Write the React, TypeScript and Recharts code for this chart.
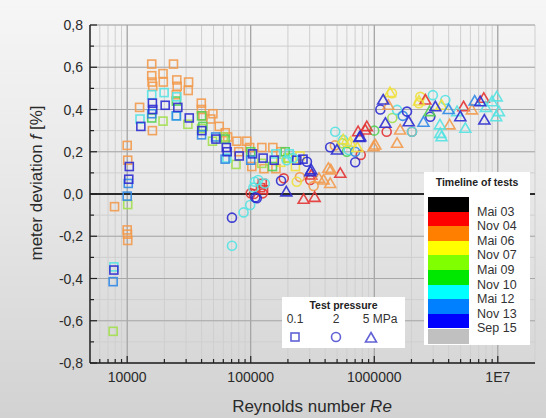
import React from "react";
import {
  ScatterChart,
  Scatter,
  XAxis,
  YAxis,
  CartesianGrid,
  ReferenceLine,
} from "recharts";

// [Reynolds number, meter deviation %]
const redSquares = [[120000, 0.03], [127000, 0.02], [124000, 0.05]];
const orangeSquares = [
  [7900, -0.06], [10000, 0.23], [10100, 0.16], [10000, -0.17], [10050, -0.19], [10100, -0.22],
  [12600, 0.41], [15800, 0.615], [15800, 0.56], [15900, 0.53], [16100, 0.51], [16000, 0.3],
  [19500, 0.57], [19600, 0.53], [23700, 0.615], [25200, 0.54], [25400, 0.51], [25000, 0.47],
  [31400, 0.53], [31200, 0.49], [39800, 0.43], [39900, 0.4], [41000, 0.37], [49400, 0.38],
  [47500, 0.355], [55600, 0.32], [62200, 0.29], [77300, 0.25], [93000, 0.25], [102000, 0.13],
  [123000, 0.22], [151000, 0.22], [98000, 0.22], [80000, 0.2], [128000, 0.12], [160000, 0.12],
  [65000, 0.27], [175000, 0.2],
];
const yellowSquares = [[200000, 0.17], [230000, 0.13], [175000, 0.15], [250000, 0.18]];
const ygreenSquares = [
  [7700, -0.65], [10100, -0.05], [19500, 0.345], [31000, 0.33], [49000, 0.25], [76000, 0.14],
  [123000, 0.145], [60000, 0.27], [200000, 0.17], [40000, 0.31],
];
const greenSquares = [
  [15800, 0.36], [40000, 0.37], [41000, 0.32], [62000, 0.26], [150000, 0.13], [25000, 0.44],
  [100000, 0.2], [190000, 0.2],
];
const cyanSquares = [
  [7800, -0.345], [12700, 0.355], [15800, 0.47], [19900, 0.48], [25200, 0.46], [25000, 0.37],
  [64000, 0.17], [160000, 0.19], [205000, 0.19],
];
const dodgerSquares = [
  [7700, -0.415], [10000, -0.01], [10200, 0.05], [15800, 0.38], [25000, 0.37], [40000, 0.28],
  [62000, 0.165], [100000, 0.16], [52000, 0.27],
];
const blueSquares = [
  [7800, -0.36], [10400, 0.13], [10300, 0.07], [12900, 0.32], [16000, 0.43], [16100, 0.4],
  [20300, 0.42], [25700, 0.41], [31800, 0.36], [40200, 0.3], [52300, 0.26], [63400, 0.22],
  [64500, 0.2], [80700, 0.18], [103500, 0.19], [126000, 0.17], [155000, 0.16], [236000, 0.16],
  [265000, 0.165],
];

const redCircles = [
  [100000, 0.003], [125000, 0.003], [106000, 0.0], [185000, 0.074], [303000, 0.066],
  [777000, 0.185], [1260000, 0.295], [2020000, 0.295],
];
const orangeCircles = [[323000, 0.038], [250000, 0.08], [480000, 0.23]];
const yellowCircles = [[1390000, 0.477], [2360000, 0.46], [2300000, 0.43], [236000, 0.058], [600000, 0.24]];
const ygreenCircles = [[550000, 0.24], [1400000, 0.36]];
const greenCircles = [[600000, 0.2], [1000000, 0.3]];
const cyanCircles = [
  [70500, -0.245], [87500, -0.087], [99000, -0.052], [105000, 0.03], [108000, 0.058],
  [115000, 0.066], [130000, 0.05], [195000, 0.16], [220000, 0.17], [483000, 0.295],
  [560000, 0.256], [620000, 0.208], [1530000, 0.398], [2020000, 0.295], [2980000, 0.468],
  [3760000, 0.445],
];
const dodgerCircles = [[700000, 0.2], [1700000, 0.37]];
const blueCircles = [
  [70500, -0.112], [109000, -0.016], [112000, -0.02], [176000, 0.063], [285000, 0.153],
  [440000, 0.221], [701000, 0.15], [1120000, 0.4], [1840000, 0.39], [2840000, 0.366],
];

const redTriangles = [
  [268000, -0.025], [329000, -0.016], [309000, 0.09], [531000, 0.098], [740000, 0.295],
  [870000, 0.319], [845000, 0.303], [2590000, 0.445], [5280000, 0.413], [7700000, 0.453],
];
const orangeTriangles = [
  [357000, 0.074], [389000, 0.066], [440000, 0.05], [425000, 0.122], [445000, 0.114],
  [1020000, 0.232], [986000, 0.224], [1530000, 0.24], [1620000, 0.303], [1300000, 0.42],
  [4070000, 0.327], [6170000, 0.398],
];
const yellowTriangles = [
  [560000, 0.256], [640000, 0.245], [1340000, 0.48], [2300000, 0.44], [3500000, 0.42], [730000, 0.22],
];
const greenTriangles = [[2800000, 0.39]];
const cyanTriangles = [
  [3420000, 0.287], [3400000, 0.327], [3500000, 0.271], [4680000, 0.39], [5460000, 0.311],
  [8970000, 0.437], [9800000, 0.46], [9700000, 0.366], [10200000, 0.39], [8000000, 0.41],
];
const dodgerTriangles = [[2500000, 0.34], [4000000, 0.4], [6500000, 0.44]];
const blueTriangles = [
  [194000, 0.01], [304000, 0.106], [309000, 0.114], [499000, 0.208], [758000, 0.268],
  [771000, 0.271], [1180000, 0.445], [1230000, 0.335], [1900000, 0.342], [3120000, 0.413],
  [4970000, 0.366], [7200000, 0.437], [7780000, 0.35],
];

const timelineColors = ["#000000", "#ff0000", "#ff8000", "#ffff00", "#80ff00", "#00e800", "#00ffff", "#0080ff", "#0000ff", "#c0c0c0"];
const timelineLabels = ["Mai 03", "Nov 04", "Mai 06", "Nov 07", "Mai 09", "Nov 10", "Mai 12", "Nov 13", "Sep 15"];
const pressureLabels = ["0.1", "2", "5 MPa"];

const xMajor = [10000, 100000, 1000000, 10000000];
const xMinor = [
  6000, 7000, 8000, 9000, 20000, 30000, 40000, 50000, 60000, 70000, 80000, 90000,
  200000, 300000, 400000, 500000, 600000, 700000, 800000, 900000,
  2000000, 3000000, 4000000, 5000000, 6000000, 7000000, 8000000, 9000000,
];
const yMajor = [-0.8, -0.6, -0.4, -0.2, 0, 0.2, 0.4, 0.6, 0.8];
const yMinor = [-0.7, -0.5, -0.3, -0.1, 0.1, 0.3, 0.5, 0.7];

const RED = "#e33434";
const ORANGE = "#f29a4c";
const YELLOW = "#eee03c";
const YGREEN = "#a2df4e";
const GREEN = "#52d052";
const CYAN = "#55e2e2";
const DODGER = "#3088e6";
const BLUE = "#2c2cd0";

const FONT = "'Liberation Sans', Arial, sans-serif";

const toPts = (arr: number[][]) => arr.map(([re, f]) => ({ re, f }));

type Kind = "square" | "circle" | "triangle";

const series: { key: string; color: string; kind: Kind; data: number[][] }[] = [
  { key: "rs", color: RED, kind: "square", data: redSquares },
  { key: "os", color: ORANGE, kind: "square", data: orangeSquares },
  { key: "ys", color: YELLOW, kind: "square", data: yellowSquares },
  { key: "gs1", color: YGREEN, kind: "square", data: ygreenSquares },
  { key: "gs2", color: GREEN, kind: "square", data: greenSquares },
  { key: "cs", color: CYAN, kind: "square", data: cyanSquares },
  { key: "ds", color: DODGER, kind: "square", data: dodgerSquares },
  { key: "bs", color: BLUE, kind: "square", data: blueSquares },
  { key: "rc", color: RED, kind: "circle", data: redCircles },
  { key: "oc", color: ORANGE, kind: "circle", data: orangeCircles },
  { key: "yc", color: YELLOW, kind: "circle", data: yellowCircles },
  { key: "gc1", color: YGREEN, kind: "circle", data: ygreenCircles },
  { key: "gc2", color: GREEN, kind: "circle", data: greenCircles },
  { key: "cc", color: CYAN, kind: "circle", data: cyanCircles },
  { key: "dc", color: DODGER, kind: "circle", data: dodgerCircles },
  { key: "bc", color: BLUE, kind: "circle", data: blueCircles },
  { key: "rt", color: RED, kind: "triangle", data: redTriangles },
  { key: "ot", color: ORANGE, kind: "triangle", data: orangeTriangles },
  { key: "yt", color: YELLOW, kind: "triangle", data: yellowTriangles },
  { key: "gt", color: GREEN, kind: "triangle", data: greenTriangles },
  { key: "ct", color: CYAN, kind: "triangle", data: cyanTriangles },
  { key: "dt", color: DODGER, kind: "triangle", data: dodgerTriangles },
  { key: "bt", color: BLUE, kind: "triangle", data: blueTriangles },
];

function Marker({ cx, cy, color, kind }: { cx: number; cy: number; color: string; kind: Kind }) {
  if (cx == null || cy == null) return null;
  const common = { fill: "none", stroke: color, strokeWidth: 1.6, strokeOpacity: 0.9 };
  if (kind === "square") return <rect x={cx - 4} y={cy - 4} width={8} height={8} {...common} />;
  if (kind === "circle") return <circle cx={cx} cy={cy} r={4.5} {...common} />;
  return <polygon points={`${cx},${cy - 5.5} ${cx + 5.5},${cy + 4} ${cx - 5.5},${cy + 4}`} {...common} />;
}

const fmtX = (v: number) => (v === 10000000 ? "1E7" : String(v));

function XTick(props: any) {
  const { x, y, payload } = props;
  const major = xMajor.includes(payload.value);
  return (
    <g>
      <line x1={x} x2={x} y1={y} y2={y - (major ? 7 : 4)} stroke="#222" strokeWidth={1.2} />
      {major && (
        <text x={x} y={y + 19} textAnchor="middle" fontSize={14} fill="#2a2a2a" fontFamily={FONT}>
          {fmtX(payload.value)}
        </text>
      )}
    </g>
  );
}

function YTick(props: any) {
  const { x, y, payload } = props;
  const v = payload.value;
  const major = yMajor.some((m) => Math.abs(m - v) < 1e-9);
  return (
    <g>
      <line x1={x} x2={x + (major ? 7 : 4)} y1={y} y2={y} stroke="#222" strokeWidth={1.2} />
      {major && (
        <text x={x - 7} y={y + 5} textAnchor="end" fontSize={14} fill="#2a2a2a" fontFamily={FONT}>
          {v.toFixed(1).replace(".", ",")}
        </text>
      )}
    </g>
  );
}

export default function App() {
  return (
    <div
      style={{
        position: "absolute",
        left: 0,
        top: 0,
        width: 546,
        height: 418,
        background: "linear-gradient(to bottom, #f6f6f6 0%, #e6e6e6 50%, #d2d2d2 100%)",
        fontFamily: FONT,
        overflow: "hidden",
      }}
    >
      <ScatterChart width={546} height={418} margin={{ top: 25, right: 11, bottom: 0, left: 0 }}>
        <CartesianGrid stroke="#cfcfcf" strokeWidth={1} />
        <XAxis
          type="number"
          dataKey="re"
          scale="log"
          domain={[5000, 20000000]}
          allowDataOverflow
          ticks={[...xMinor, ...xMajor].sort((a, b) => a - b)}
          tick={<XTick />}
          tickSize={0}
          tickMargin={0}
          tickLine={false}
          interval={0}
          height={55}
          axisLine={{ stroke: "#222", strokeWidth: 1.5 }}
        />
        <YAxis
          type="number"
          dataKey="f"
          domain={[-0.8, 0.8]}
          allowDataOverflow
          ticks={[...yMinor, ...yMajor].sort((a, b) => a - b)}
          tick={<YTick />}
          tickSize={0}
          tickMargin={0}
          tickLine={false}
          interval={0}
          width={90}
          axisLine={{ stroke: "#222", strokeWidth: 1.5 }}
        />
        {xMajor.map((v) => (
          <ReferenceLine key={"vx" + v} x={v} stroke="#9a9a9a" strokeWidth={1} />
        ))}
        {yMajor.filter((v) => v !== 0).map((v) => (
          <ReferenceLine key={"hy" + v} y={v} stroke="#a8a8a8" strokeWidth={1} />
        ))}
        <ReferenceLine y={0} stroke="#2b2b2b" strokeWidth={2} />
        {series.map((s) => (
          <Scatter
            key={s.key}
            data={toPts(s.data)}
            isAnimationActive={false}
            shape={(p: any) => <Marker cx={p.cx} cy={p.cy} color={s.color} kind={s.kind} />}
          />
        ))}
      </ScatterChart>

      {/* axis titles */}
      <div
        style={{
          position: "absolute",
          left: 37 - 110,
          top: 183 - 11,
          width: 220,
          height: 22,
          lineHeight: "22px",
          textAlign: "center",
          fontSize: 17,
          color: "#2a2a2a",
          transform: "rotate(-90deg)",
          whiteSpace: "nowrap",
        }}
      >
        meter deviation <i>f</i> [%]
      </div>
      <div
        style={{
          position: "absolute",
          left: 312 - 150,
          top: 396,
          width: 300,
          lineHeight: "22px",
          textAlign: "center",
          fontSize: 17,
          color: "#2a2a2a",
          whiteSpace: "nowrap",
        }}
      >
        Reynolds number <i>Re</i>
      </div>

      {/* pressure legend */}
      <div
        style={{
          position: "absolute",
          left: 282,
          top: 297,
          width: 123,
          height: 51,
          background: "#ffffff",
        }}
      >
        <div style={{ position: "absolute", left: 0, top: 2, width: 123, textAlign: "center", fontSize: 10.5, fontWeight: "bold", color: "#222" }}>
          Test pressure
        </div>
        {pressureLabels.map((t, i) => {
          const cx = [13, 54, 98][i];
          return (
            <div key={t} style={{ position: "absolute", left: cx - 25, top: 15, width: 50, textAlign: "center", fontSize: 12, color: "#333" }}>
              {t}
            </div>
          );
        })}
        <svg style={{ position: "absolute", left: 0, top: 0 }} width={123} height={51}>
          <Marker cx={13} cy={40} color="#5050d0" kind="square" />
          <Marker cx={54} cy={40} color="#5050d0" kind="circle" />
          <Marker cx={89} cy={41} color="#5050d0" kind="triangle" />
        </svg>
      </div>

      {/* timeline legend */}
      <div
        style={{
          position: "absolute",
          left: 424,
          top: 172,
          width: 106,
          height: 173,
          background: "#ffffff",
        }}
      >
        <div style={{ position: "absolute", left: 0, top: 4, width: 106, textAlign: "center", fontSize: 10.5, fontWeight: "bold", color: "#222" }}>
          Timeline of tests
        </div>
        {timelineColors.map((c, i) => (
          <div
            key={c}
            style={{
              position: "absolute",
              left: 4,
              top: 25 + i * 14.6 + (i === 9 ? 1 : 0),
              width: 41,
              height: 14.6,
              background: c,
            }}
          />
        ))}
        {timelineLabels.map((t, i) => (
          <div
            key={t}
            style={{
              position: "absolute",
              left: 53,
              top: 25 + (i + 1) * 14.6 - 8,
              lineHeight: "16px",
              fontSize: 12.5,
              color: "#333",
              whiteSpace: "nowrap",
            }}
          >
            {t}
          </div>
        ))}
      </div>
    </div>
  );
}
